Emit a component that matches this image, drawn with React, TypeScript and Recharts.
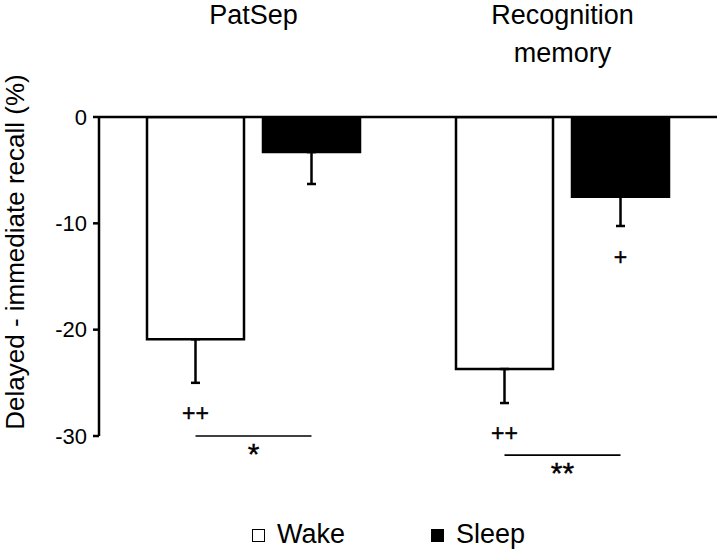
import React from "react";
import { Bar, BarChart, ErrorBar, LabelList, Legend, XAxis, YAxis } from "recharts";

const categories = ["PatSep", "Recognition memory"];
const wakeValues = [-20.9, -23.7];
const wakeErrors = [4.1, 3.2];
const sleepValues = [-3.3, -7.5];
const sleepErrors = [3.0, 2.75];
const yTicks = [0, -10, -20, -30];

// significance marks, y given in data units
const wakeMarks = ["++", "++"];
const wakeMarkLevels = [-27.8, -29.7];
const sleepMarks = ["", "+"];
const sleepMarkLevels = [0, -13.15];
const sigLabels = ["*", "**"];
const sigLevels = [-30, -31.8];

const FONT = "'Liberation Sans', Arial, sans-serif";
const BAR_SIZE = 97;
const BAR_GAP = 19;

const data = categories.map((name, i) => ({
  name,
  wake: wakeValues[i],
  wakeErr: [wakeErrors[i], 0],
  sleep: sleepValues[i],
  sleepErr: [sleepErrors[i], 0],
}));

function barBox(props: any) {
  const b = props.viewBox && props.viewBox.width !== undefined ? props.viewBox : props;
  return { x: Number(b.x), y: Number(b.y), width: Number(b.width), height: Number(b.height) };
}

function WakeMarks(props: any) {
  const i = props.index;
  const v = wakeValues[i];
  if (v === undefined) return null;
  const { x, y, width, height } = barBox(props);
  const zero = Math.min(y, y + height);
  const ppu = Math.abs(height) / Math.abs(v);
  const yAt = (val: number) => zero - val * ppu;
  const cx = x + width / 2;
  const sx = cx + width + BAR_GAP;
  const ly = yAt(sigLevels[i]);
  return (
    <g fontFamily={FONT} fill="#000">
      <text
        x={cx}
        y={yAt(wakeMarkLevels[i])}
        textAnchor="middle"
        dominantBaseline="central"
        fontSize={23}
        stroke="#000"
        strokeWidth={0.4}
      >
        {wakeMarks[i]}
      </text>
      <line x1={cx} x2={sx} y1={ly} y2={ly} stroke="#000" strokeWidth={1.6} />
      <text x={(cx + sx) / 2} y={ly + 27.5} textAnchor="middle" fontSize={30} stroke="#000" strokeWidth={0.4}>
        {sigLabels[i]}
      </text>
    </g>
  );
}

function SleepMarks(props: any) {
  const i = props.index;
  const v = sleepValues[i];
  if (v === undefined || !sleepMarks[i]) return null;
  const { x, y, width, height } = barBox(props);
  const zero = Math.min(y, y + height);
  const ppu = Math.abs(height) / Math.abs(v);
  return (
    <text
      x={x + width / 2}
      y={zero - sleepMarkLevels[i] * ppu}
      textAnchor="middle"
      dominantBaseline="central"
      fontSize={23}
      fontFamily={FONT}
      fill="#000"
      stroke="#000"
      strokeWidth={0.4}
    >
      {sleepMarks[i]}
    </text>
  );
}

function TitleTick(props: any) {
  const { x, payload } = props;
  const lines = String(payload.value).split(" ");
  return (
    <text x={x} textAnchor="middle" fontSize={27} fontFamily={FONT} fill="#000">
      {lines.map((l, k) => (
        <tspan key={k} x={x} y={24 + k * 38}>
          {l}
        </tspan>
      ))}
    </text>
  );
}

function YLabel() {
  return (
    <text
      x={24}
      y={252}
      transform="rotate(-90 24 252)"
      textAnchor="middle"
      fontSize={26}
      fontFamily={FONT}
      fill="#000"
    >
      Delayed - immediate recall (%)
    </text>
  );
}

function LegendBox() {
  const item = (label: string, fill: string) => (
    <div style={{ display: "flex", alignItems: "center", marginRight: 86 }}>
      <span
        style={{
          display: "inline-block",
          width: 11,
          height: 11,
          border: "1.5px solid #000",
          background: fill,
          marginRight: 12,
          marginTop: 3,
        }}
      />
      <span>{label}</span>
    </div>
  );
  return (
    <div
      style={{
        display: "flex",
        height: 36,
        alignItems: "center",
        paddingLeft: 252,
        fontSize: 27,
        lineHeight: "36px",
        fontFamily: FONT,
        color: "#000",
      }}
    >
      {item("Wake", "#fff")}
      {item("Sleep", "#000")}
    </div>
  );
}

export default function App() {
  return (
    <div style={{ position: "absolute", left: 0, top: 0, fontFamily: FONT, background: "#fff" }}>
      <BarChart
        width={720}
        height={550}
        data={data}
        margin={{ top: 0, right: 3, bottom: 78, left: 0 }}
        barSize={BAR_SIZE}
        barGap={BAR_GAP}
      >
        <XAxis
          dataKey="name"
          orientation="top"
          height={117}
          tickLine={false}
          axisLine={{ stroke: "#000", strokeWidth: 2.5 }}
          tick={<TitleTick />}
          interval={0}
        />
        <YAxis
          width={99}
          domain={[-30, 0]}
          allowDataOverflow
          ticks={yTicks}
          tickSize={6}
          tickMargin={6}
          tick={{ fontSize: 22, fill: "#000", fontFamily: FONT }}
          axisLine={{ stroke: "#000", strokeWidth: 2.5 }}
          tickLine={{ stroke: "#000", strokeWidth: 2.5 }}
          label={<YLabel />}
        />
        <Legend wrapperStyle={{ top: 516, left: 0 }} content={<LegendBox />} />
        <Bar dataKey="wake" name="Wake" fill="#fff" stroke="#000" strokeWidth={2.5} isAnimationActive={false}>
          <ErrorBar dataKey="wakeErr" width={4.5} stroke="#000" strokeWidth={2.5} direction="y" />
          <LabelList dataKey="wake" content={<WakeMarks />} />
        </Bar>
        <Bar dataKey="sleep" name="Sleep" fill="#000" stroke="#000" strokeWidth={2.5} isAnimationActive={false}>
          <ErrorBar dataKey="sleepErr" width={4.5} stroke="#000" strokeWidth={2.5} direction="y" />
          <LabelList dataKey="sleep" content={<SleepMarks />} />
        </Bar>
      </BarChart>
    </div>
  );
}
